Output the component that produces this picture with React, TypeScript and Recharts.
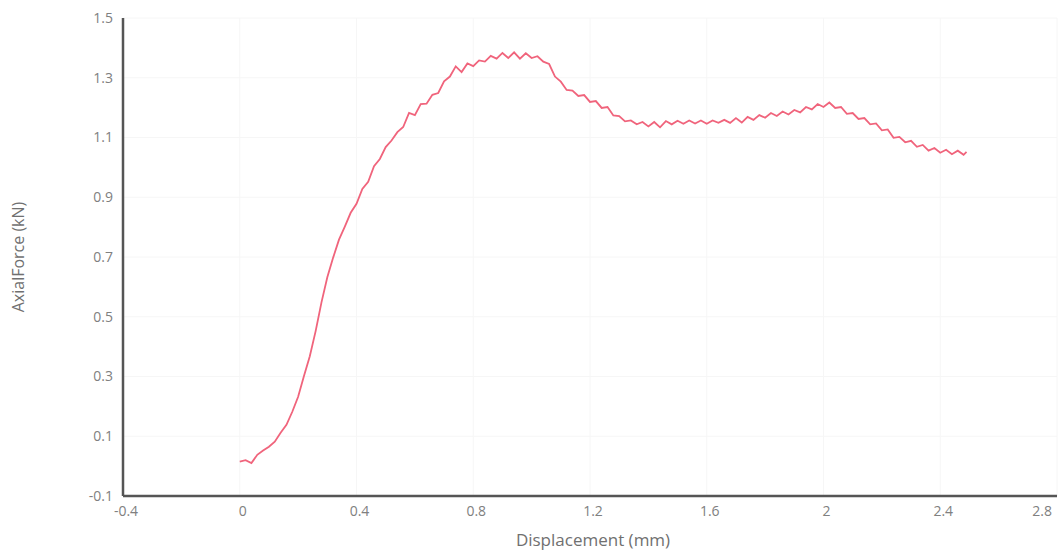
import { LineChart, Line, XAxis, YAxis, CartesianGrid } from 'recharts';

const displacement = [
  0.0, 0.02, 0.04, 0.06, 0.08, 0.1, 0.12, 0.14, 0.16, 0.18, 0.2, 0.22, 0.24, 0.26, 0.28, 0.3, 0.32, 0.34,
  0.36, 0.38, 0.4, 0.42, 0.44, 0.46, 0.48, 0.5, 0.52, 0.54, 0.56, 0.58, 0.6, 0.62, 0.64, 0.66, 0.68, 0.7,
  0.72, 0.74, 0.76, 0.78, 0.8, 0.82, 0.84, 0.86, 0.88, 0.9, 0.92, 0.94, 0.96, 0.98, 1.0, 1.02, 1.04, 1.06,
  1.08, 1.1, 1.12, 1.14, 1.16, 1.18, 1.2, 1.22, 1.24, 1.26, 1.28, 1.3, 1.32, 1.34, 1.36, 1.38, 1.4, 1.42,
  1.44, 1.46, 1.48, 1.5, 1.52, 1.54, 1.56, 1.58, 1.6, 1.62, 1.64, 1.66, 1.68, 1.7, 1.72, 1.74, 1.76, 1.78,
  1.8, 1.82, 1.84, 1.86, 1.88, 1.9, 1.92, 1.94, 1.96, 1.98, 2.0, 2.02, 2.04, 2.06, 2.08, 2.1, 2.12, 2.14,
  2.16, 2.18, 2.2, 2.22, 2.24, 2.26, 2.28, 2.3, 2.32, 2.34, 2.36, 2.38, 2.4, 2.42, 2.44, 2.46, 2.48, 2.49,
];

const axialForce = [
  0.015, 0.02, 0.01, 0.038, 0.052, 0.065, 0.082, 0.112, 0.138, 0.182, 0.232, 0.302, 0.368, 0.452, 0.548,
  0.632, 0.698, 0.758, 0.802, 0.848, 0.878, 0.928, 0.952, 1.004, 1.028, 1.068, 1.09, 1.118, 1.135, 1.182,
  1.175, 1.212, 1.213, 1.243, 1.249, 1.288, 1.304, 1.338, 1.319, 1.348, 1.339, 1.358, 1.354, 1.373, 1.364,
  1.383, 1.366, 1.385, 1.364, 1.382, 1.366, 1.372, 1.354, 1.346, 1.304, 1.287, 1.259, 1.257, 1.239, 1.242,
  1.219, 1.222, 1.199, 1.202, 1.174, 1.172, 1.154, 1.157, 1.144, 1.152, 1.137, 1.152, 1.134, 1.155, 1.144,
  1.156, 1.146, 1.157, 1.147, 1.157, 1.146, 1.157, 1.149, 1.159, 1.149, 1.165, 1.15, 1.169, 1.159, 1.175,
  1.166, 1.182, 1.172, 1.187, 1.177, 1.192, 1.184, 1.202, 1.194, 1.212, 1.202, 1.217, 1.199, 1.202, 1.179,
  1.182, 1.162, 1.165, 1.144, 1.147, 1.124, 1.127, 1.099, 1.102, 1.084, 1.089, 1.069, 1.075, 1.056, 1.065,
  1.049, 1.059, 1.044, 1.056, 1.042, 1.052,
];

const xTicks = [-0.4, 0, 0.4, 0.8, 1.2, 1.6, 2, 2.4, 2.8];
const yTicks = [-0.1, 0.1, 0.3, 0.5, 0.7, 0.9, 1.1, 1.3, 1.5];

const data = displacement.map((d, i) => ({ d, f: axialForce[i] }));

const fmt = (v: number): string => String(Math.round(v * 10) / 10);

const FONT = '"Open Sans", "Noto Sans", sans-serif';
const TICK_COLOR = '#808080';
const tickStyle = { fontSize: 14, fill: TICK_COLOR, fontFamily: FONT };

// last x label is pulled in so it ends at the axis end, like the source
function XTick(props: any) {
  const { x, y, payload } = props;
  const last = payload.value === xTicks[xTicks.length - 1];
  return (
    <text
      x={last ? x + 1 : x + 3}
      y={y}
      dy="0.71em"
      textAnchor={last ? 'end' : 'middle'}
      fontSize={14}
      fill={TICK_COLOR}
      fontFamily={FONT}
    >
      {fmt(payload.value)}
    </text>
  );
}

export default function App() {
  return (
    <div style={{ position: 'absolute', left: 0, top: 0, background: '#fff' }}>
      <LineChart
        width={1061}
        height={552}
        data={data}
        margin={{ top: 18, right: 4, bottom: 0, left: 0 }}
      >
        <CartesianGrid stroke="#f6f6f6" strokeWidth={1} />
        <XAxis
          type="number"
          dataKey="d"
          domain={[-0.4, 2.8]}
          ticks={xTicks}
          tick={<XTick />}
          height={56}
          tickLine={false}
          tickSize={4}
          tickMargin={6}
          axisLine={{ stroke: '#555', strokeWidth: 2.5 }}
          label={{
            value: 'Displacement (mm)',
            position: 'insideBottom',
            offset: 6,
            dx: 3,
            style: { fontSize: 17, fill: '#707070', fontFamily: FONT },
          }}
        />
        <YAxis
          type="number"
          domain={[-0.1, 1.5]}
          ticks={yTicks}
          tickFormatter={fmt}
          width={123}
          tick={tickStyle}
          tickLine={false}
          tickSize={4}
          tickMargin={6}
          axisLine={{ stroke: '#555', strokeWidth: 2.5 }}
          label={{
            value: 'AxialForce (kN)',
            angle: -90,
            position: 'insideLeft',
            offset: 18,
            style: { fontSize: 16, fill: '#707070', fontFamily: FONT, textAnchor: 'middle' },
          }}
        />
        <Line
          type="linear"
          dataKey="f"
          stroke="#f0647c"
          strokeWidth={1.8}
          dot={false}
          isAnimationActive={false}
        />
      </LineChart>
    </div>
  );
}
